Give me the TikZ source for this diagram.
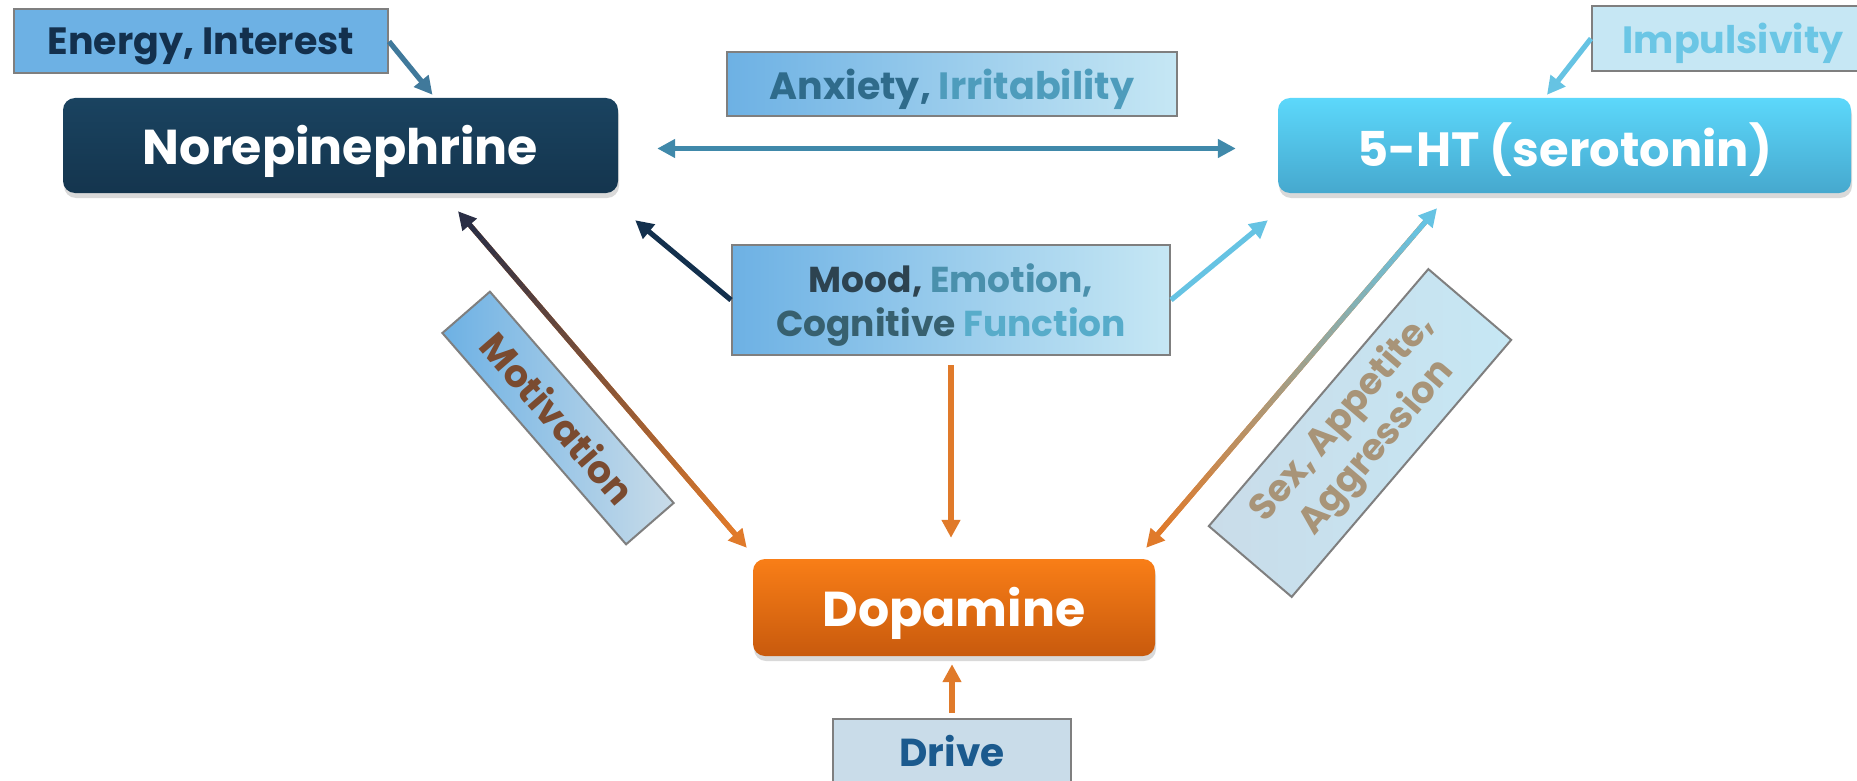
\documentclass[tikz,border=0pt]{standalone}
\usepackage{fontspec}
\setmainfont{Poppins}
\usetikzlibrary{arrows.meta,calc,shadows}
\definecolor{navyF}{HTML}{14354E}
\definecolor{navyT}{HTML}{1A4360}
\definecolor{navyX}{HTML}{13304D}
\definecolor{lblue}{HTML}{6DB1E4}
\definecolor{pblue}{HTML}{C6E7F4}
\definecolor{pgray}{HTML}{C9DCE9}
\definecolor{cyanA}{HTML}{5CD8FB}
\definecolor{cyanB}{HTML}{46A8CE}
\definecolor{orA}{HTML}{F97E17}
\definecolor{orB}{HTML}{C85A0D}
\definecolor{arrOr}{HTML}{E07A2A}
\definecolor{arrTeal}{HTML}{4089AA}
\definecolor{arrSteel}{HTML}{40799B}
\definecolor{arrSky}{HTML}{66C3E3}
\definecolor{arrDark}{HTML}{2A2E45}
\definecolor{bord}{HTML}{7F7F7F}
\definecolor{driveT}{HTML}{1B5A8E}
\definecolor{impT}{HTML}{6BC6E5}
\definecolor{anxA}{HTML}{2F6B8B}
\definecolor{anxB}{HTML}{4E9CBC}
\definecolor{moodA}{HTML}{2D4350}
\definecolor{moodB}{HTML}{4A90AC}
\definecolor{moodC}{HTML}{37606F}
\definecolor{moodD}{HTML}{57ACCA}
\definecolor{motT}{HTML}{7A4B30}
\definecolor{sexT}{HTML}{A89478}
\newcommand\gradline[4]{%
  \coordinate (ga) at ($(#1)!17pt!(#2)$);
  \coordinate (gb) at ($(#2)!17pt!(#1)$);
  \draw[line width=5.2pt, draw=#4, {Triangle[length=18pt,width=18pt,color=#3]}-{Triangle[length=18pt,width=18pt,color=#4]}] (#1) -- (#2);
  \foreach \i in {0,...,39}{%
    \pgfmathsetmacro\pa{\i/40}%
    \pgfmathsetmacro\pb{(\i+1)/40}%
    \pgfmathtruncatemacro\pc{100*\i/39}%
    \draw[line width=5.2pt, color=#4!\pc!#3] ($(ga)!\pa!(gb)$) -- ($(ga)!\pb!(gb)$);
  }%
}
\tikzset{
  mainbox/.style={rounded corners=12pt, text=white, inner sep=0pt, text depth=0.12em,
    font=\bfseries\fontsize{49}{53}\selectfont,
    drop shadow={shadow xshift=1pt, shadow yshift=-5pt, opacity=0.3}},
  tagbox/.style={draw=bord, line width=2pt, inner sep=0pt, align=center,
    font=\bfseries\fontsize{38}{44}\selectfont},
  arr/.style={line width=5.2pt, -{Triangle[length=18pt,width=18pt]}},
  biarr/.style={line width=5.2pt, {Triangle[length=18pt,width=18pt]}-{Triangle[length=18pt,width=18pt]}}
}
\begin{document}
\begin{tikzpicture}[x=1pt,y=-1pt]
\useasboundingbox (0,0) rectangle (1857,781);
% main boxes
\node[mainbox, minimum width=555pt, minimum height=95pt, top color=navyT, bottom color=navyF] (nor) at (340.5,145.5) {Norepinephrine};
\node[mainbox, minimum width=573pt, minimum height=95pt, top color=cyanA, bottom color=cyanB, font=\bfseries\fontsize{48}{53}\selectfont] (sht) at (1564.5,145.5) {5-HT (serotonin)};
\node[mainbox, minimum width=402pt, minimum height=97pt, top color=orA, bottom color=orB] (dop) at (954,607.5) {Dopamine};
% label boxes
\node[tagbox, fill=lblue, text=navyX, text depth=0pt, minimum width=374pt, minimum height=64pt] (energy) at (201,41.5) {Energy, Interest};
\node[tagbox, left color=lblue, right color=pblue, text depth=0pt, minimum width=450pt, minimum height=64pt] (anx) at (952,84) {\textcolor{anxA}{Anxiety,} \textcolor{anxB}{Irritability}};
\node[tagbox, fill=pblue, text=impT, text depth=0pt, minimum width=282pt, minimum height=65pt] (imp) at (1733,38.5) {Impulsivity};
\node[tagbox, left color=lblue, right color=pblue, text depth=0pt, minimum width=438pt, minimum height=110pt, font=\bfseries\fontsize{36}{44}\selectfont] (mood) at (951,300) {\textcolor{moodA}{Mood,} \textcolor{moodB}{Emotion,}\\\textcolor{moodC}{Cognitive} \textcolor{moodD}{Function}};
\node[tagbox, fill=pgray, text=driveT, minimum width=238pt, minimum height=64pt, font=\bfseries\fontsize{39}{44}\selectfont] (drive) at (952,751) {Drive};
\node[tagbox, rotate=-49, left color=lblue, right color=pgray, text=motT, minimum width=280pt, minimum height=63pt] (mot) at (558,418) {Motivation};
\node[tagbox, rotate=49.5, left color=pgray, right color=pblue, text=sexT, minimum width=338pt, minimum height=109pt, font=\bfseries\fontsize{37}{45}\selectfont] (sex) at (1360,433) {Sex, Appetite,\\Aggression};
% arrows
\draw[arr, arrSteel] (energy.east) -- ($(nor.north)+(92,-3)$);
\draw[biarr, arrTeal] ($(nor.east)+(39,3)$) -- ($(sht.west)+(-42,3)$);
\draw[arr, arrSky] (imp.west) -- ($(sht.north)+(-17.5,-3)$);
\draw[arr, navyX] (mood.west) -- ($(nor.south east)+(17,27)$);
\draw[arr, arrSky] (mood.east) -- ($(sht.south west)+(-10,27)$);
\draw[arr, arrOr, shorten <=9pt, shorten >=21pt] (mood.south) -- (mood.south |- dop.north);
\draw[arr, arrOr, shorten <=5pt, shorten >=8pt] (drive.north) -- (drive.north |- dop.south);
\coordinate (nd1) at ($(nor.south)+(117.5,18)$);
\coordinate (nd2) at ($(dop.north west)+(-6,-11)$);
\gradline{nd1}{nd2}{arrDark}{arrOr}
\coordinate (sd1) at ($(sht.south)+(-127.5,15)$);
\coordinate (sd2) at ($(dop.north east)+(-9,-11)$);
\gradline{sd1}{sd2}{arrSky}{arrOr}
\end{tikzpicture}
\end{document}
